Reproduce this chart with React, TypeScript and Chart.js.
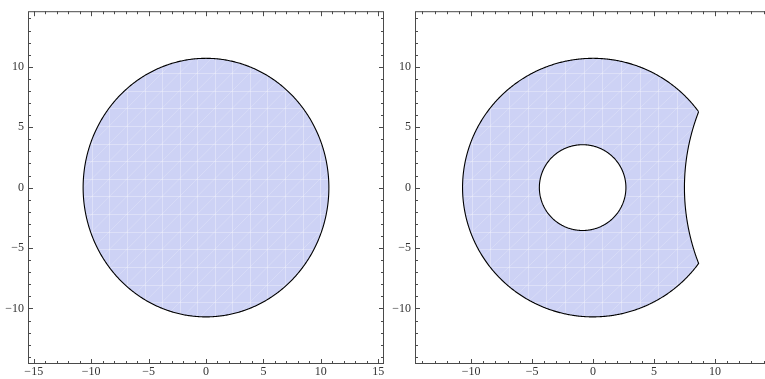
import React, { useEffect, useRef } from 'react';
import { Chart, registerables } from 'chart.js';

Chart.register(...registerables);

// ---- data ----
const LEFT_X_RANGE = [-15.5, 15.5];
const RIGHT_X_RANGE = [-14.6, 14.6];
const Y_RANGE = [-14.6, 14.6];
const LEFT_X_TICKS = [-15, -10, -5, 0, 5, 10, 15];
const RIGHT_X_TICKS = [-10, -5, 0, 5, 10];
const Y_TICKS = [-10, -5, 0, 5, 10];

// circles as [centerX, centerY, radius]
const DISK = [0, 0, 10.7];
const HOLE = [-0.85, 0, 3.55];
const CUT = [25, 0, 17.5];

// region-mesh cell size [x, y] (faint texture of the plot)
const MESH_STEP = [1.53, 1.46];

const FILL = '#cdd2f5';
const FONT = { family: "'Liberation Serif', 'Times New Roman', serif", size: 12 };
const fmt = (v: number) => (v < 0 ? '\u2212' + Math.abs(v) : String(v));

type Pt = { x: number; y: number };

function arc(c: number[], a0: number, a1: number, n: number): Pt[] {
  const pts: Pt[] = [];
  for (let i = 0; i <= n; i++) {
    const a = a0 + ((a1 - a0) * i) / n;
    pts.push({ x: c[0] + c[2] * Math.cos(a), y: c[1] + c[2] * Math.sin(a) });
  }
  return pts;
}

function diskBoundary(): Pt[] {
  return arc(DISK, 0, Math.PI * 2, 360);
}

function cutDiskBoundary(): Pt[] {
  const d = CUT[0] - DISK[0];
  const r1 = DISK[2];
  const R = CUT[2];
  const xs = (r1 * r1 - R * R + d * d) / (2 * d);
  const ys = Math.sqrt(r1 * r1 - xs * xs);
  const th = Math.atan2(ys, xs);
  const phi = Math.atan2(ys, d - xs);
  const outer = arc(DISK, th, Math.PI * 2 - th, 360);
  const inner = arc(CUT, Math.PI + phi, Math.PI - phi, 80);
  return outer.concat(inner.slice(1));
}

function holeBoundary(): Pt[] {
  return arc(HOLE, 0, Math.PI * 2, 200);
}

// faint mesh drawn inside the filled region, after the fills and before the outlines
const meshPlugin = {
  id: 'meshTexture',
  beforeDatasetsDraw(chart: any) {
    const { ctx, chartArea: a, scales } = chart;
    const x = scales.x;
    const y = scales.y;
    ctx.save();
    ctx.beginPath();
    ctx.rect(a.left, a.top, a.right - a.left, a.bottom - a.top);
    ctx.clip();
    ctx.beginPath();
    chart.data.datasets.forEach((_d: any, i: number) => {
      const meta = chart.getDatasetMeta(i);
      if (meta.dataset) meta.dataset.path(ctx);
      ctx.closePath();
    });
    ctx.clip('evenodd');
    ctx.strokeStyle = 'rgba(255,255,255,0.32)';
    ctx.lineWidth = 1;
    ctx.beginPath();
    const sx = MESH_STEP[0];
    const sy = MESH_STEP[1];
    for (let k = Math.floor(x.min / sx) - 1; k * sx <= x.max + sx; k++) {
      const px = Math.round(x.getPixelForValue((k + 0.5) * sx)) + 0.5;
      ctx.moveTo(px, a.top);
      ctx.lineTo(px, a.bottom);
    }
    for (let k = Math.floor(y.min / sy) - 1; k * sy <= y.max + sy; k++) {
      const py = Math.round(y.getPixelForValue((k + 0.5) * sy)) + 0.5;
      ctx.moveTo(a.left, py);
      ctx.lineTo(a.right, py);
    }
    ctx.stroke();
    ctx.strokeStyle = 'rgba(255,255,255,0.22)';
    ctx.beginPath();
    for (let k = -40; k <= 40; k++) {
      const x0 = (k + 0.5) * sx;
      const y0 = 0.5 * sy;
      const t = 40;
      ctx.moveTo(x.getPixelForValue(x0 - t * sx), y.getPixelForValue(y0 - t * sy));
      ctx.lineTo(x.getPixelForValue(x0 + t * sx), y.getPixelForValue(y0 + t * sy));
    }
    ctx.stroke();
    ctx.restore();
  },
};

const frameTicks = {
  id: 'frameTicks',
  afterDatasetsDraw(chart: any) {
    const { ctx, chartArea: a, scales } = chart;
    const x = scales.x;
    const y = scales.y;
    ctx.save();
    ctx.strokeStyle = '#4a4a4a';
    ctx.lineWidth = 1;
    ctx.beginPath();
    for (let v = Math.ceil(x.min); v <= Math.floor(x.max); v++) {
      const px = Math.round(x.getPixelForValue(v)) + 0.5;
      const len = v % 5 === 0 ? 5 : 3;
      ctx.moveTo(px, a.bottom);
      ctx.lineTo(px, a.bottom - len);
      ctx.moveTo(px, a.top);
      ctx.lineTo(px, a.top + len);
    }
    for (let v = Math.ceil(y.min); v <= Math.floor(y.max); v++) {
      const py = Math.round(y.getPixelForValue(v)) + 0.5;
      const len = v % 5 === 0 ? 5 : 3;
      ctx.moveTo(a.left, py);
      ctx.lineTo(a.left + len, py);
      ctx.moveTo(a.right, py);
      ctx.lineTo(a.right - len, py);
    }
    ctx.stroke();
    ctx.strokeRect(a.left + 0.5, a.top + 0.5, a.right - a.left - 1, a.bottom - a.top - 1);
    ctx.restore();
  },
};

type PanelProps = {
  left: number;
  width: number;
  areaLeft: number;
  areaRight: number;
  xRange: number[];
  xTicks: number[];
  datasets: any[];
};

function Panel({ left, width, areaLeft, areaRight, xRange, xTicks, datasets }: PanelProps) {
  const ref = useRef<HTMLCanvasElement | null>(null);
  useEffect(() => {
    if (!ref.current) return;
    const chart = new Chart(ref.current, {
      type: 'scatter',
      data: { datasets },
      plugins: [meshPlugin, frameTicks],
      options: {
        animation: false,
        responsive: false,
        devicePixelRatio: 1,
        layout: { padding: { top: 9, right: width - areaRight, bottom: 0, left: 0 } },
        plugins: {
          legend: { display: false },
          tooltip: { enabled: false },
          filler: { drawTime: 'beforeDatasetsDraw' },
        },
        elements: { point: { radius: 0, hoverRadius: 0 } },
        scales: {
          x: {
            type: 'linear',
            min: xRange[0],
            max: xRange[1],
            grid: { display: false, drawTicks: false },
            border: { display: false },
            afterBuildTicks: (s: any) => {
              s.ticks = xTicks.map((v) => ({ value: v }));
            },
            afterFit: (s: any) => {
              s.height = 379 - 364;
            },
            ticks: {
              callback: (v: any) => fmt(Number(v)),
              font: FONT,
              color: '#333',
              padding: 1,
              maxRotation: 0,
              autoSkip: false,
            },
          },
          y: {
            type: 'linear',
            min: Y_RANGE[0],
            max: Y_RANGE[1],
            grid: { display: false, drawTicks: false },
            border: { display: false },
            afterBuildTicks: (s: any) => {
              s.ticks = Y_TICKS.map((v) => ({ value: v }));
            },
            afterFit: (s: any) => {
              s.width = areaLeft;
            },
            ticks: {
              callback: (v: any) => fmt(Number(v)),
              font: FONT,
              color: '#333',
              padding: 4,
              autoSkip: false,
            },
          },
        },
      },
    });
    return () => chart.destroy();
  }, []);
  return (
    <canvas
      ref={ref}
      width={width}
      height={379}
      style={{ position: 'absolute', left, top: 0, width, height: 379 }}
    />
  );
}

const lineDs = (data: Pt[], bg: string) => ({
  data,
  showLine: true,
  fill: 'shape',
  backgroundColor: bg,
  borderColor: '#000',
  borderWidth: 1.1,
  pointRadius: 0,
  tension: 0.001,
});

export default function App() {
  const leftSets = [lineDs(diskBoundary(), FILL)];
  const rightSets = [lineDs(holeBoundary(), '#ffffff'), lineDs(cutDiskBoundary(), FILL)];
  return (
    <div
      style={{
        position: 'absolute',
        left: 0,
        top: 0,
        width: 765,
        height: 379,
        overflow: 'hidden',
        background: '#fff',
      }}
    >
      <Panel left={0} width={400} areaLeft={28} areaRight={384} xRange={LEFT_X_RANGE} xTicks={LEFT_X_TICKS} datasets={leftSets} />
      <Panel left={385} width={400} areaLeft={30} areaRight={386} xRange={RIGHT_X_RANGE} xTicks={RIGHT_X_TICKS} datasets={rightSets} />
    </div>
  );
}
